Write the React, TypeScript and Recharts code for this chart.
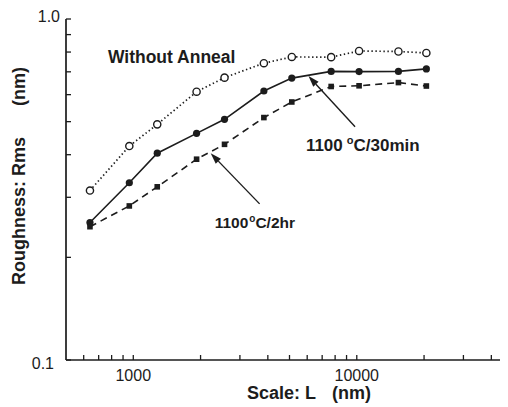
import React from 'react';
import { LineChart, Line, XAxis, YAxis, ReferenceLine, ReferenceDot } from 'recharts';

// Scale L (nm)
const scaleL = [640, 960, 1280, 1920, 2560, 3840, 5120, 7680, 10240, 15360, 20480];
// Roughness Rms (nm)
const withoutAnneal = [0.314, 0.424, 0.491, 0.612, 0.673, 0.742, 0.774, 0.773, 0.806, 0.803, 0.795];
const anneal30min = [0.253, 0.331, 0.404, 0.462, 0.508, 0.615, 0.671, 0.702, 0.701, 0.702, 0.714];
const anneal2hr = [0.246, 0.283, 0.322, 0.388, 0.429, 0.514, 0.571, 0.634, 0.637, 0.651, 0.636];

const xTicks = [600, 700, 800, 900, 1000, 2000, 3000, 4000, 5000, 6000, 7000, 8000, 9000, 10000, 20000, 30000, 40000, 50000];
const xTickLabels = [1000, 10000];
const yTicks = [0.1, 0.2, 0.3, 0.4, 0.5, 0.6, 0.7, 0.8, 0.9, 1.0];
const yTickLabels = ['0.1', '1.0'];

const labelWithout = { text: 'Without Anneal', x: 770, y: 0.743 };
const label30 = { main: '1100', sup: 'o', rest: 'C/30min', x: 5920, y: 0.41 };
const label2hr = { main: '1100', sup: 'o', rest: 'C/2hr', x: 2313, y: 0.2438 };
const arrow30 = [{ x: 9825, y: 0.483 }, { x: 6080, y: 0.68 }];
const arrow2hr = [{ x: 3675, y: 0.287 }, { x: 2220, y: 0.404 }];

const data = scaleL.map((L, i) => ({
  L,
  without: withoutAnneal[i],
  min30: anneal30min[i],
  hr2: anneal2hr[i],
}));

const INK = '#1c1c1c';
const FONT = '"Liberation Sans", Arial, Helvetica, sans-serif';

const XTickBottom = (p: any) => {
  const { x, y, payload } = p;
  const v = payload.value;
  return (
    <g>
      <line x1={x} y1={y} x2={x} y2={y - 5} stroke={INK} strokeWidth={1.3} />
      {xTickLabels.includes(v) && (
        <text x={x} y={y + 15} textAnchor="middle" dominantBaseline="central" fontSize={16} fontFamily={FONT} fill={INK}>
          {v}
        </text>
      )}
    </g>
  );
};

const XTickTop = (p: any) => {
  const { x, y } = p;
  return <line x1={x} y1={y} x2={x} y2={y + 5} stroke={INK} strokeWidth={1.3} />;
};

const YTick = (p: any) => {
  const { x, y, payload } = p;
  const v = payload.value;
  const s = v.toFixed(1);
  const show = yTickLabels.includes(s);
  const isTop = s === '1.0';
  return (
    <g>
      <line x1={x} y1={y} x2={x + 5} y2={y} stroke={INK} strokeWidth={1.3} />
      {show && (
        <text
          x={isTop ? x - 6 : x - 12}
          y={isTop ? y - 2.5 : y + 3}
          textAnchor="end"
          dominantBaseline="central"
          fontSize={16}
          fontFamily={FONT}
          fill={INK}
        >
          {s}
        </text>
      )}
    </g>
  );
};

const YLabel = (p: any) => {
  const vb = p.viewBox || { x: 0, y: 11, width: 58, height: 341 };
  const cx = vb.x + 11;
  const y1 = vb.y + 266;
  const y2 = vb.y + 48;
  return (
    <g fontFamily={FONT} fontWeight="bold" fontSize={18} fill={INK}>
      <text x={cx} y={y1} transform={`rotate(-90 ${cx} ${y1})`} textAnchor="start" dominantBaseline="central">
        Roughness: Rms
      </text>
      <text x={cx} y={y2} transform={`rotate(-90 ${cx} ${y2})`} textAnchor="end" dominantBaseline="central">
        (nm)
      </text>
    </g>
  );
};

const XLabel = (p: any) => {
  const vb = p.viewBox || { x: 58, y: 352, width: 447, height: 47 };
  const by = vb.y + 39;
  return (
    <g fontFamily={FONT} fontWeight="bold" fontSize={18} fill={INK}>
      <text x={vb.x + 181} y={by} textAnchor="start">Scale: L</text>
      <text x={vb.x + 266} y={by} textAnchor="start">(nm)</text>
    </g>
  );
};

const OpenCircle = (p: any) => {
  const { cx, cy } = p;
  if (cx == null || cy == null) return null;
  return <circle cx={cx} cy={cy} r={3.6} fill="#fff" stroke={INK} strokeWidth={1.4} />;
};
const FilledCircle = (p: any) => {
  const { cx, cy } = p;
  if (cx == null || cy == null) return null;
  return <circle cx={cx} cy={cy} r={3.6} fill={INK} stroke="none" />;
};
const FilledSquare = (p: any) => {
  const { cx, cy } = p;
  if (cx == null || cy == null) return null;
  return <rect x={cx - 2.8} y={cy - 2.8} width={5.6} height={5.6} fill={INK} />;
};

const ArrowShape = (p: any) => {
  const { x1, y1, x2, y2 } = p;
  if ([x1, y1, x2, y2].some((v) => v == null || isNaN(v))) return null;
  const dx = x2 - x1;
  const dy = y2 - y1;
  const len = Math.hypot(dx, dy) || 1;
  const ux = dx / len;
  const uy = dy / len;
  const hl = 11;
  const hw = 3.6;
  const bx = x2 - ux * hl;
  const by = y2 - uy * hl;
  return (
    <g>
      <line x1={x1} y1={y1} x2={bx} y2={by} stroke={INK} strokeWidth={1.4} />
      <polygon points={`${x2},${y2} ${bx - uy * hw},${by + ux * hw} ${bx + uy * hw},${by - ux * hw}`} fill={INK} />
    </g>
  );
};

const TextShape = (content: (cx: number, cy: number) => React.ReactNode) => (p: any) => {
  const { cx, cy } = p;
  if (cx == null || cy == null) return null;
  return <g>{content(cx, cy)}</g>;
};

const withoutText = TextShape((cx, cy) => (
  <text x={cx} y={cy} fontFamily={FONT} fontWeight="bold" fontSize={17.5} fill={INK}>
    {labelWithout.text}
  </text>
));

const text30 = TextShape((cx, cy) => (
  <text x={cx} y={cy} fontFamily={FONT} fontWeight="bold" fontSize={17} fill={INK}>
    {label30.main}
    <tspan dx={4} dy={-7} fontSize={11}>{label30.sup}</tspan>
    <tspan dy={7}>{label30.rest}</tspan>
  </text>
));

const text2hr = TextShape((cx, cy) => (
  <text x={cx} y={cy} fontFamily={FONT} fontWeight="bold" fontSize={15.5} fill={INK}>
    {label2hr.main}
    <tspan dx={1} dy={-6} fontSize={10}>{label2hr.sup}</tspan>
    <tspan dy={6}>{label2hr.rest}</tspan>
  </text>
));

export default function App() {
  return (
    <div style={{ width: 500, height: 399, overflow: 'hidden', background: '#fff' }}>
      <LineChart width={520} height={399} data={data} margin={{ top: 11, right: 15, bottom: 0, left: 0 }}>
        <XAxis
          xAxisId="b"
          dataKey="L"
          type="number"
          scale="log"
          domain={[500, 50000]}
          allowDataOverflow
          ticks={xTicks}
          interval={0}
          tick={<XTickBottom />}
          tickSize={0}
          tickMargin={0}
          tickLine={false}
          height={47}
          axisLine={{ stroke: INK, strokeWidth: 1.7 }}
          label={<XLabel />}
        />
        <XAxis
          xAxisId="t"
          orientation="top"
          type="number"
          scale="log"
          domain={[500, 50000]}
          allowDataOverflow
          ticks={xTicks}
          interval={0}
          tick={<XTickTop />}
          tickSize={0}
          tickMargin={0}
          tickLine={false}
          height={0}
          axisLine={{ stroke: INK, strokeWidth: 1.7 }}
        />
        <YAxis
          type="number"
          scale="log"
          domain={[0.1, 1]}
          allowDataOverflow
          ticks={yTicks}
          interval={0}
          tick={<YTick />}
          tickSize={0}
          tickMargin={0}
          tickLine={false}
          width={58}
          axisLine={{ stroke: INK, strokeWidth: 1.7 }}
          label={<YLabel />}
        />
        <Line
          xAxisId="b"
          dataKey="without"
          type="linear"
          stroke={INK}
          strokeWidth={1.7}
          strokeDasharray="1.4 2.6"
          dot={<OpenCircle />}
          isAnimationActive={false}
        />
        <Line
          xAxisId="b"
          dataKey="min30"
          type="linear"
          stroke={INK}
          strokeWidth={1.6}
          dot={<FilledCircle />}
          isAnimationActive={false}
        />
        <Line
          xAxisId="b"
          dataKey="hr2"
          type="linear"
          stroke={INK}
          strokeWidth={1.6}
          strokeDasharray="7 5"
          dot={<FilledSquare />}
          isAnimationActive={false}
        />
        <ReferenceLine xAxisId="b" segment={arrow30} shape={ArrowShape} ifOverflow="visible" />
        <ReferenceLine xAxisId="b" segment={arrow2hr} shape={ArrowShape} ifOverflow="visible" />
        <ReferenceDot xAxisId="b" x={labelWithout.x} y={labelWithout.y} r={0} shape={withoutText} ifOverflow="visible" />
        <ReferenceDot xAxisId="b" x={label30.x} y={label30.y} r={0} shape={text30} ifOverflow="visible" />
        <ReferenceDot xAxisId="b" x={label2hr.x} y={label2hr.y} r={0} shape={text2hr} ifOverflow="visible" />
      </LineChart>
    </div>
  );
}
